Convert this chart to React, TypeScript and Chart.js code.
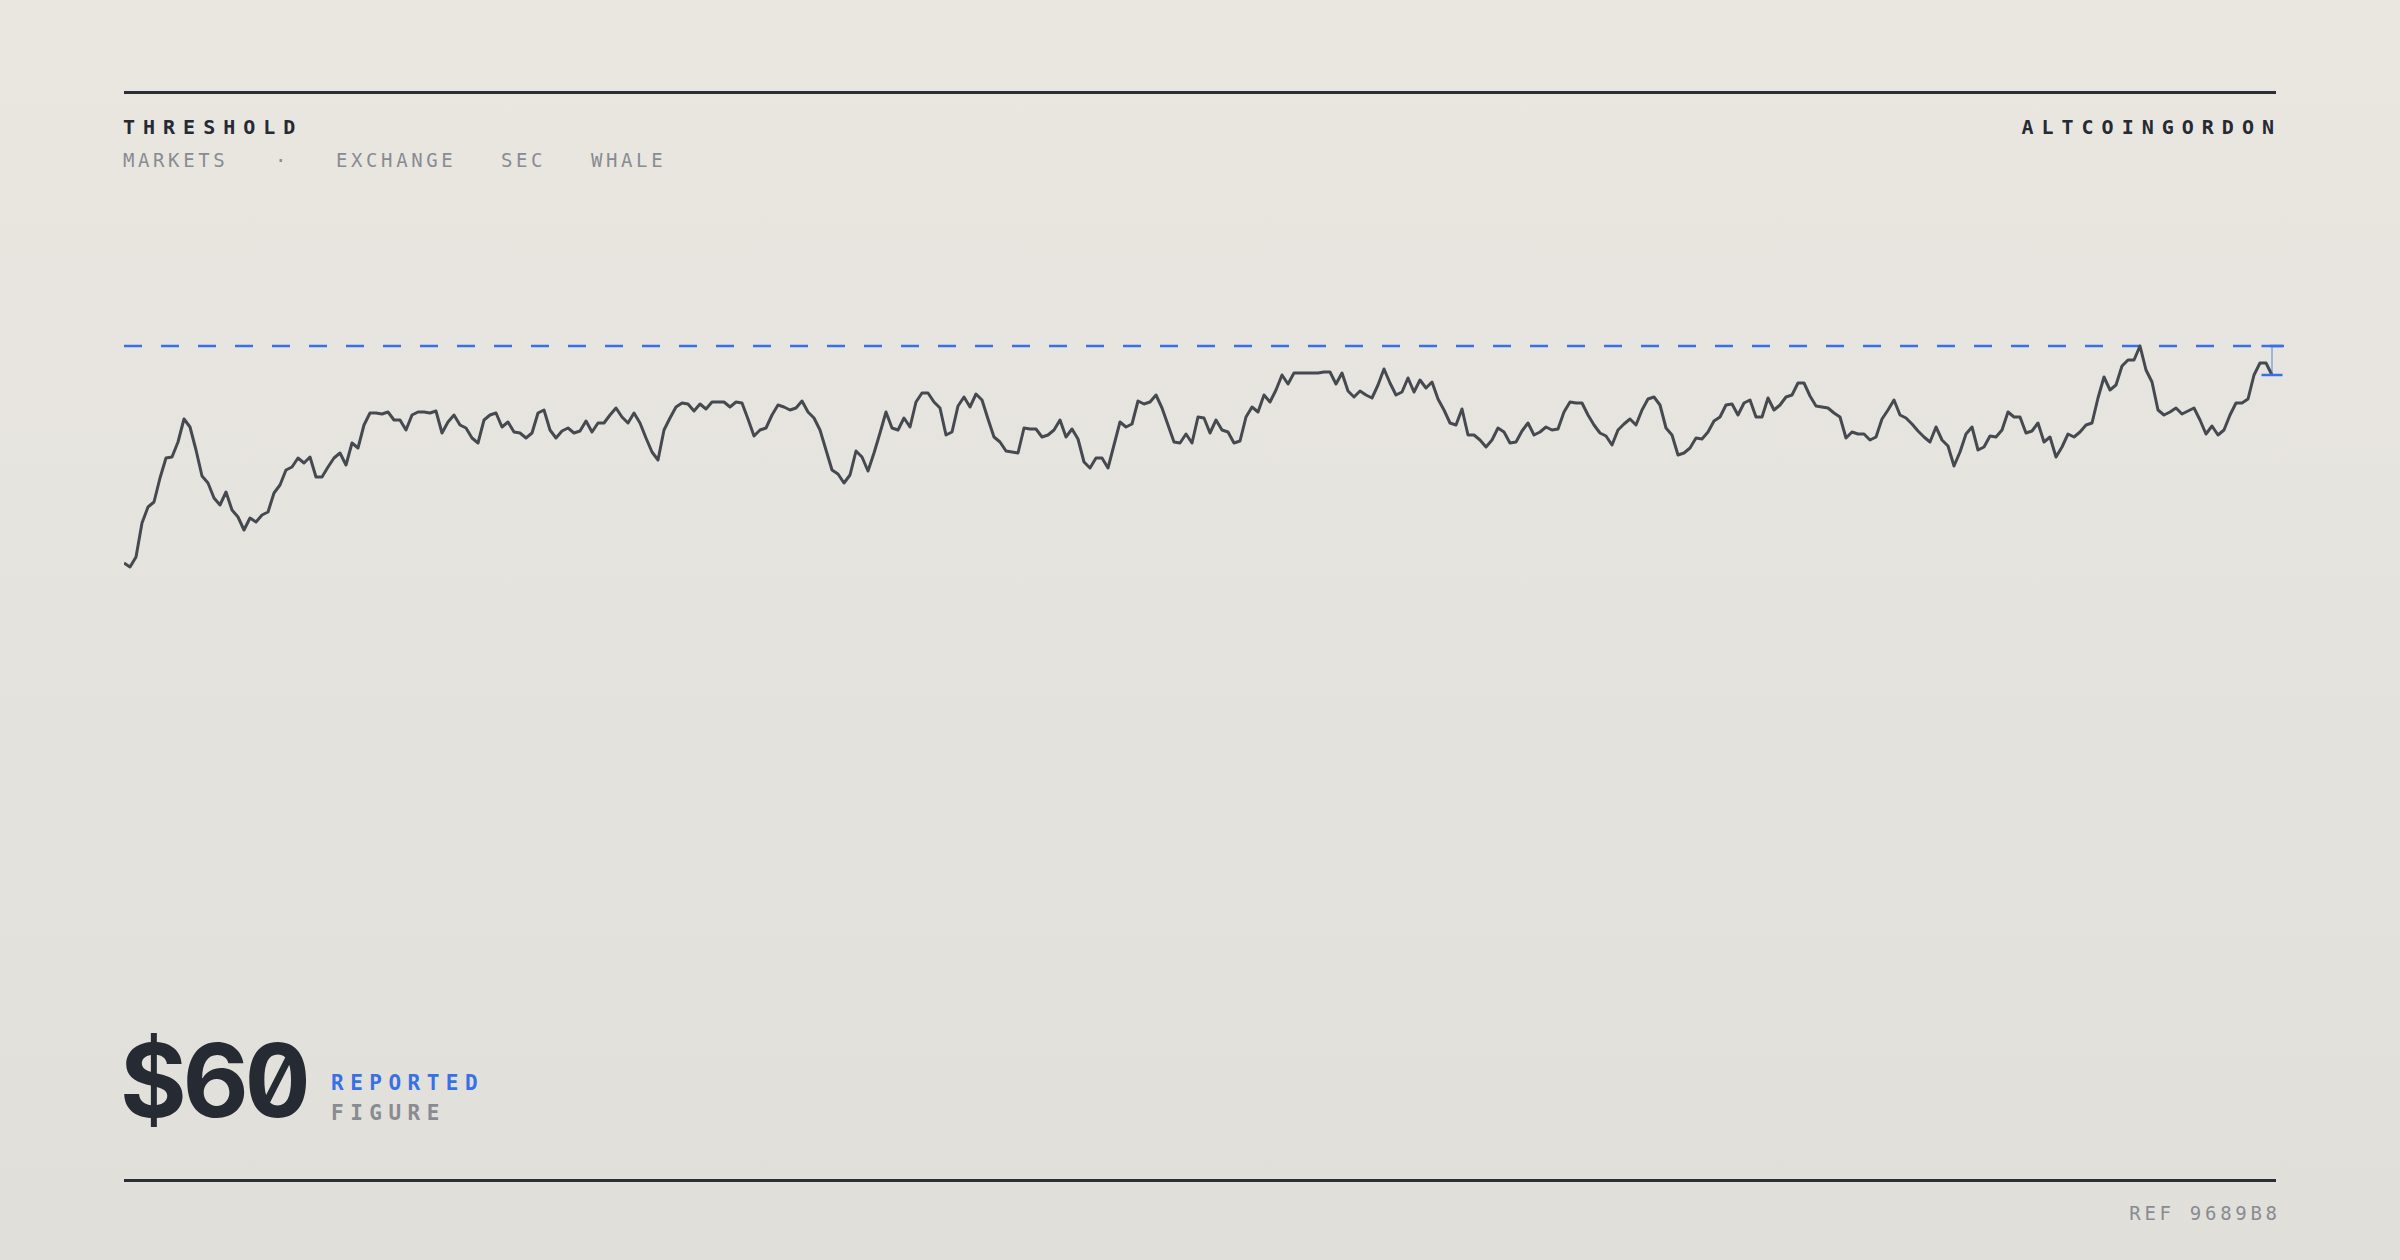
import React, { useEffect, useRef } from "react";
import { Chart, registerables } from "chart.js";

Chart.register(...registerables);

// ---- data ----
const seriesPart1 = [
  38.3, 37.9, 38.9, 42.3, 43.9, 44.4, 46.8, 48.8, 48.9, 50.4,
  52.7, 51.9, 49.6, 47.0, 46.3, 44.8, 44.1, 45.4, 43.6, 42.9,
  41.6, 42.8, 42.4, 43.1, 43.4, 45.3, 46.1, 47.6, 47.9, 48.8,
  48.3, 48.9, 46.9, 46.9, 47.9, 48.8, 49.3, 48.1, 50.3, 49.8,
  52.1, 53.3, 53.3, 53.2, 53.4, 52.6, 52.6, 51.6, 53.1, 53.4,
  53.4, 53.3, 53.5, 51.3, 52.4, 53.1, 52.1, 51.8, 50.8, 50.3,
  52.6,
];
const seriesPart2 = [
  53.1, 53.3, 51.9, 52.4, 51.4, 51.3, 50.8, 51.3, 53.3, 53.6,
  51.6, 50.8, 51.5, 51.8, 51.3, 51.5, 52.5, 51.4, 52.3, 52.3,
  53.1, 53.8, 52.9, 52.3, 53.3, 52.3, 50.8, 49.4, 48.6, 51.6,
  52.8, 53.9, 54.3, 54.2, 53.5, 54.2, 53.7, 54.4, 54.4, 54.4,
  53.9, 54.4, 54.3, 52.7, 51.0, 51.6, 51.8, 53.1, 54.1, 53.9,
  53.6, 53.8, 54.5, 53.4, 52.8, 51.6, 49.6, 47.6, 47.2, 46.3,
  47.1,
];
const seriesPart3 = [
  49.5, 48.9, 47.5, 49.3, 51.3, 53.4, 51.8, 51.6, 52.8, 51.9,
  54.4, 55.3, 55.3, 54.4, 53.8, 51.1, 51.4, 54.0, 54.9, 53.9,
  55.2, 54.6, 52.7, 50.9, 50.4, 49.5, 49.4, 49.3, 51.8, 51.7,
  51.7, 50.9, 51.1, 51.6, 52.6, 50.9, 51.7, 50.7, 48.4, 47.8,
  48.8, 48.8, 47.8, 50.1, 52.4, 51.9, 52.2, 54.5, 54.2, 54.4,
  55.1, 53.8, 52.1, 50.4, 50.3, 51.2, 50.3, 52.9, 52.8, 51.3,
  52.6,
];
const seriesPart4 = [
  51.6, 51.4, 50.3, 50.5, 52.9, 53.9, 53.4, 55.1, 54.4, 55.6,
  57.1, 56.2, 57.3, 57.3, 57.3, 57.3, 57.3, 57.4, 57.4, 56.2,
  57.3, 55.5, 54.9, 55.5, 55.1, 54.8, 56.1, 57.7, 56.3, 55.1,
  55.4, 56.8, 55.4, 56.6, 55.8, 56.4, 54.7, 53.6, 52.3, 52.1,
  53.7, 51.1, 51.1, 50.6, 49.9, 50.6, 51.8, 51.4, 50.3, 50.4,
  51.5, 52.3, 51.1, 51.4, 51.9, 51.6, 51.7, 53.4, 54.4, 54.3,
  54.3,
];
const seriesPart5 = [
  53.1, 52.1, 51.3, 51.0, 50.1, 51.6, 52.2, 52.7, 52.1, 53.6,
  54.7, 54.9, 54.1, 51.8, 51.1, 49.1, 49.3, 49.8, 50.8, 50.7,
  51.4, 52.5, 52.9, 54.1, 54.2, 53.1, 54.3, 54.6, 52.9, 52.9,
  54.8, 53.6, 54.1, 54.9, 55.1, 56.3, 56.3, 55.0, 54.0, 53.9,
  53.8, 53.3, 52.9, 50.8, 51.4, 51.2, 51.2, 50.6, 50.9, 52.7,
  53.6, 54.6, 53.1, 52.8, 52.2, 51.5, 50.9, 50.4, 51.9, 50.6,
];
const seriesPart6 = [
  50.0, 48.0, 49.4, 51.2, 51.9, 49.6, 49.9, 51.0, 50.9, 51.6,
  53.4, 52.9, 52.9, 51.3, 51.5, 52.3, 50.4, 50.9, 48.9, 49.9,
  51.2, 50.9, 51.4, 52.1, 52.3, 54.8, 56.9, 55.6, 56.1, 58.0,
  58.6, 58.6, 60.0, 57.6, 56.4, 53.6, 53.1, 53.4, 53.8, 53.2,
  53.5, 53.8, 52.6, 51.2, 52.0, 51.1, 51.6, 53.1, 54.3, 54.3,
  54.7, 57.1, 58.3, 58.3, 57.1,
];
const series = [
  ...seriesPart1, ...seriesPart2, ...seriesPart3,
  ...seriesPart4, ...seriesPart5, ...seriesPart6,
];
const thresholdValue = 60;
const yRange = [0, 70];
const xRange = [0, 360];
const markerHalfWidth = 1.75;

const headerLeft = "THRESHOLD";
const headerRight = "ALTCOINGORDON";
const tags = ["MARKETS", "·", "EXCHANGE", "SEC", "WHALE"];
const tagLefts = [123, 275, 336, 501, 591];
const figureText = "$60";
const figureLabel1 = "REPORTED";
const figureLabel2 = "FIGURE";
const refText = "REF 9689B8";

// ---- styles ----
const MONO = "'DejaVu Sans Mono', monospace";
const FIG_FONT = "Inter, 'DejaVu Sans Mono', sans-serif";
const INK = "#262A33";
const MUTED = "#898B92";
const BLUE = "#3870E6";
const LINE = "#454950";

function Txt(props: {
  text: string;
  size: number;
  baseline: number;
  left?: number;
  right?: number;
  weight?: number;
  spacing?: number;
  color: string;
  font?: string;
  base?: number;
  features?: string;
}) {
  const {
    text, size, baseline, left, right, weight = 400, spacing = 0, color,
    font = MONO, base = 0.846, features = "normal",
  } = props;
  const style: React.CSSProperties = {
    position: "absolute",
    top: baseline - base * size,
    fontFamily: font,
    fontSize: size,
    lineHeight: `${size}px`,
    fontWeight: weight,
    letterSpacing: spacing,
    fontFeatureSettings: features,
    color,
    whiteSpace: "pre",
  };
  if (left !== undefined) style.left = left;
  if (right !== undefined) style.right = right - spacing;
  return <div style={style}>{text}</div>;
}

export default function App() {
  const canvasRef = useRef<HTMLCanvasElement | null>(null);

  useEffect(() => {
    const canvas = canvasRef.current;
    if (!canvas) return;
    const lastIndex = series.length - 1;
    const lastValue = series[lastIndex];
    const cap = (y: number) => ({
      data: [
        { x: lastIndex - markerHalfWidth, y },
        { x: lastIndex + markerHalfWidth, y },
      ],
      borderColor: BLUE,
      borderWidth: 2.5,
      pointRadius: 0,
      clip: false,
    });
    const chart = new Chart(canvas, {
      type: "line",
      data: {
        datasets: [
          cap(lastValue) as any,
          cap(thresholdValue) as any,
          {
            data: [
              { x: lastIndex, y: lastValue },
              { x: lastIndex, y: thresholdValue },
            ],
            borderColor: "rgba(56,112,230,0.55)",
            borderWidth: 1.5,
            pointRadius: 0,
            clip: false,
          } as any,
          {
            data: series.map((v, i) => ({ x: i, y: v })),
            borderColor: LINE,
            borderWidth: 3,
            pointRadius: 0,
            tension: 0,
            borderJoinStyle: "round",
            clip: false,
          } as any,
          {
            data: [
              { x: xRange[0], y: thresholdValue },
              { x: xRange[1], y: thresholdValue },
            ],
            borderColor: BLUE,
            borderWidth: 2.5,
            borderDash: [18, 19],
            pointRadius: 0,
            clip: false,
          } as any,
        ],
      },
      options: {
        animation: false,
        responsive: false,
        devicePixelRatio: 1,
        events: [],
        layout: { padding: 0 },
        scales: {
          x: { type: "linear", min: xRange[0], max: xRange[1], display: false },
          y: { type: "linear", min: yRange[0], max: yRange[1], display: false },
        },
        plugins: {
          legend: { display: false },
          tooltip: { enabled: false },
        },
      },
    });
    return () => chart.destroy();
  }, []);

  return (
    <div
      style={{
        position: "absolute",
        left: 0,
        top: 0,
        width: 2400,
        height: 1260,
        overflow: "hidden",
        background: "linear-gradient(180deg, #EAE7E1 0%, #E0DFDA 100%)",
      }}
    >
      <div style={{ position: "absolute", left: 124, top: 91, width: 2152, height: 3, background: "#2A2E36" }} />
      <Txt text={headerLeft} size={20} baseline={134} left={123} weight={700} spacing={8} color={INK} />
      <Txt text={headerRight} size={20} baseline={134} right={126} weight={700} spacing={8} color={INK} />
      {tags.map((t, i) => (
        <Txt key={i} text={t} size={19} baseline={167} left={tagLefts[i]} spacing={3.6} color={MUTED} />
      ))}

      <canvas
        ref={canvasRef}
        width={2160}
        height={700}
        style={{ position: "absolute", left: 124, top: 246, width: 2160, height: 700 }}
      />

      <Txt
        text={figureText}
        size={102}
        baseline={1117}
        left={120}
        weight={700}
        spacing={-4}
        color={INK}
        font={FIG_FONT}
        base={0.864}
        features={'"tnum" 1, "zero" 1'}
      />
      <Txt text={figureLabel1} size={21} baseline={1091} left={331} weight={700} spacing={6.5} color={BLUE} />
      <Txt text={figureLabel2} size={21} baseline={1121} left={331} weight={700} spacing={6.5} color={MUTED} />

      <div style={{ position: "absolute", left: 124, top: 1179, width: 2152, height: 3, background: "#2A2E36" }} />
      <Txt text={refText} size={19} baseline={1220} right={123} spacing={3.7} color={MUTED} />
    </div>
  );
}
